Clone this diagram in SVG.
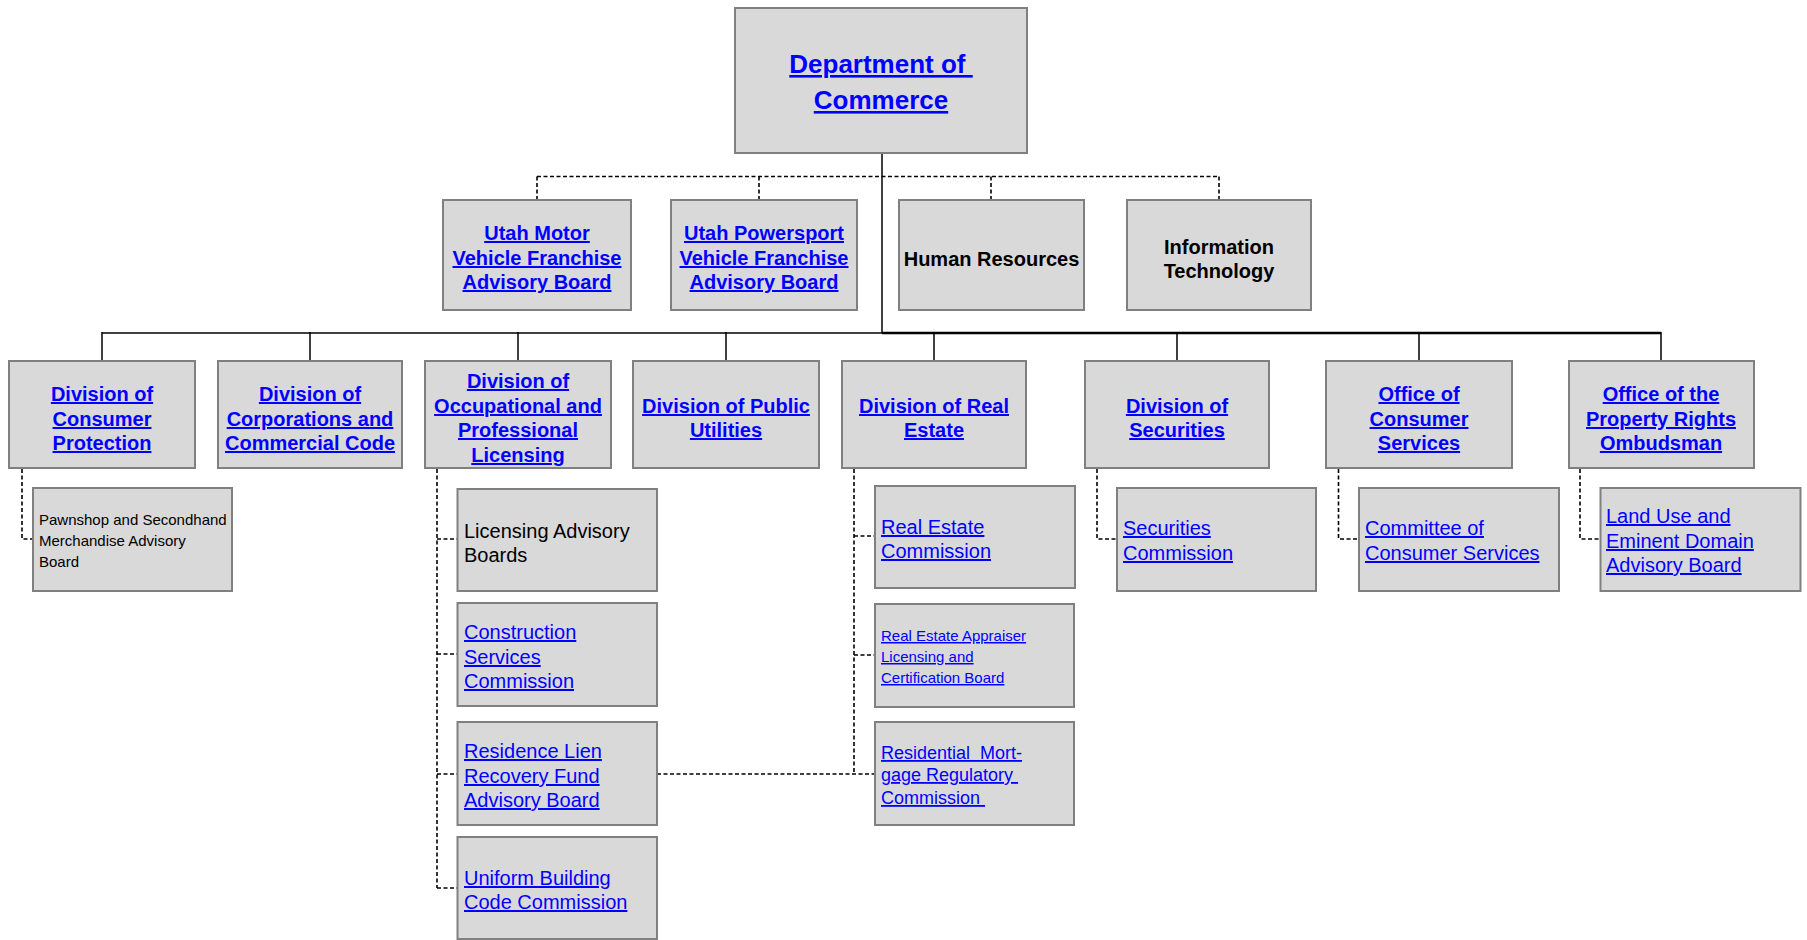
<svg xmlns="http://www.w3.org/2000/svg" width="1807" height="940" viewBox="0 0 1807 940">
<style>
.box{fill:#D9D9D9;stroke:#808080;stroke-width:2}
text{font-family:"Liberation Sans",Arial,sans-serif}
.lb{font-weight:bold;font-size:20px;fill:#0000FF;text-decoration:underline;text-anchor:middle}
.top{font-weight:bold;font-size:26px;fill:#0000FF;text-decoration:underline;text-anchor:middle;white-space:pre}
.hb{font-weight:bold;font-size:20px;fill:#000000;text-anchor:middle}
.lr{font-size:20px;fill:#0000FF;text-decoration:underline;white-space:pre}
.lr18{font-size:18px;fill:#0000FF;text-decoration:underline;white-space:pre}
.lr15{font-size:15px;fill:#0000FF;text-decoration:underline;white-space:pre}
.kr{font-size:20px;fill:#000000}
.kr15{font-size:15px;fill:#000000}
.solid{fill:none;stroke:#000;stroke-width:1.5}
.thick{fill:none;stroke:#000;stroke-width:2.6}
.dash{fill:none;stroke:#000;stroke-width:1.6;stroke-dasharray:4 2.5}
</style>
<rect width="1807" height="940" fill="#FFFFFF"/>
<g id="connectors">
  <path class="solid" d="M882 153 V333"/>
  <path class="solid" d="M102 333 H882"/>
  <path class="thick" d="M882 333 H1661"/>
  <path class="solid" d="M102 332 V361 M310 332 V361 M518 332 V361 M726 332 V361 M934 332 V361 M1177 332 V361 M1419 332 V361 M1661 332 V361"/>
  <path class="dash" d="M537 176.5 H1219 M537 176.5 V200 M759 176.5 V200 M991 176.5 V200 M1219 176.5 V200"/>
  <path class="dash" d="M22 469 V539 H33"/>
  <path class="dash" d="M437 469 V888 M437 539 H457 M437 654 H457 M437 774 H457 M437 888 H457"/>
  <path class="dash" d="M854 469 V774 M854 536 H875 M854 655 H875 M657 774 H875"/>
  <path class="dash" d="M1097 469 V539 H1117"/>
  <path class="dash" d="M1338.5 469 V539 H1359"/>
  <path class="dash" d="M1580 469 V539 H1600"/>
</g>
<g id="dept-commerce">
  <rect class="box" x="735" y="8" width="292" height="145"/>
  <text class="top" x="881" y="73">Department of </text>
  <text class="top" x="881" y="109">Commerce</text>
</g>
<g id="utah-motor">
  <rect class="box" x="443" y="200" width="188" height="110"/>
  <text class="lb" x="537" y="240">Utah Motor</text>
  <text class="lb" x="537" y="265">Vehicle Franchise</text>
  <text class="lb" x="537" y="289">Advisory Board</text>
</g>
<g id="utah-powersport">
  <rect class="box" x="671" y="200" width="186" height="110"/>
  <text class="lb" x="764" y="240">Utah Powersport</text>
  <text class="lb" x="764" y="265">Vehicle Franchise</text>
  <text class="lb" x="764" y="289">Advisory Board</text>
</g>
<g id="human-resources">
  <rect class="box" x="899" y="200" width="185" height="110"/>
  <text class="hb" x="991.5" y="266">Human Resources</text>
</g>
<g id="information-technology">
  <rect class="box" x="1127" y="200" width="184" height="110"/>
  <text class="hb" x="1219" y="254">Information</text>
  <text class="hb" x="1219" y="278">Technology</text>
</g>
<g id="consumer-protection">
  <rect class="box" x="9" y="361" width="186" height="107"/>
  <text class="lb" x="102" y="401">Division of</text>
  <text class="lb" x="102" y="426">Consumer</text>
  <text class="lb" x="102" y="450">Protection</text>
</g>
<g id="corporations">
  <rect class="box" x="218" y="361" width="184" height="107"/>
  <text class="lb" x="310" y="401">Division of</text>
  <text class="lb" x="310" y="426">Corporations and</text>
  <text class="lb" x="310" y="450">Commercial Code</text>
</g>
<g id="occupational">
  <rect class="box" x="425" y="361" width="186" height="107"/>
  <text class="lb" x="518" y="388">Division of</text>
  <text class="lb" x="518" y="413">Occupational and</text>
  <text class="lb" x="518" y="437">Professional</text>
  <text class="lb" x="518" y="462">Licensing</text>
</g>
<g id="public-utilities">
  <rect class="box" x="633" y="361" width="186" height="107"/>
  <text class="lb" x="726" y="413">Division of Public</text>
  <text class="lb" x="726" y="437">Utilities</text>
</g>
<g id="real-estate">
  <rect class="box" x="842" y="361" width="184" height="107"/>
  <text class="lb" x="934" y="413">Division of Real</text>
  <text class="lb" x="934" y="437">Estate</text>
</g>
<g id="securities">
  <rect class="box" x="1085" y="361" width="184" height="107"/>
  <text class="lb" x="1177" y="413">Division of</text>
  <text class="lb" x="1177" y="437">Securities</text>
</g>
<g id="office-consumer-services">
  <rect class="box" x="1326" y="361" width="186" height="107"/>
  <text class="lb" x="1419" y="401">Office of</text>
  <text class="lb" x="1419" y="426">Consumer</text>
  <text class="lb" x="1419" y="450">Services</text>
</g>
<g id="property-rights">
  <rect class="box" x="1569" y="361" width="185" height="107"/>
  <text class="lb" x="1661" y="401">Office of the</text>
  <text class="lb" x="1661" y="426">Property Rights</text>
  <text class="lb" x="1661" y="450">Ombudsman</text>
</g>
<g id="pawnshop">
  <rect class="box" x="33" y="488" width="199" height="103"/>
  <text class="kr15" x="39" y="525">Pawnshop and Secondhand</text>
  <text class="kr15" x="39" y="546">Merchandise Advisory</text>
  <text class="kr15" x="39" y="567">Board</text>
</g>
<g id="licensing-advisory">
  <rect class="box" x="457.5" y="489" width="199.5" height="102"/>
  <text class="kr" x="464" y="538">Licensing Advisory</text>
  <text class="kr" x="464" y="562">Boards</text>
</g>
<g id="construction">
  <rect class="box" x="457.5" y="603" width="199.5" height="103"/>
  <text class="lr" x="464" y="639">Construction</text>
  <text class="lr" x="464" y="664">Services</text>
  <text class="lr" x="464" y="688">Commission</text>
</g>
<g id="residence-lien">
  <rect class="box" x="457.5" y="722" width="199.5" height="103"/>
  <text class="lr" x="464" y="758">Residence Lien</text>
  <text class="lr" x="464" y="783">Recovery Fund</text>
  <text class="lr" x="464" y="807">Advisory Board</text>
</g>
<g id="uniform-building">
  <rect class="box" x="457.5" y="837" width="199.5" height="102"/>
  <text class="lr" x="464" y="885">Uniform Building</text>
  <text class="lr" x="464" y="909">Code Commission</text>
</g>
<g id="real-estate-commission">
  <rect class="box" x="875" y="486" width="200" height="102"/>
  <text class="lr" x="881" y="534">Real Estate</text>
  <text class="lr" x="881" y="558">Commission</text>
</g>
<g id="appraiser">
  <rect class="box" x="875" y="604" width="199" height="103"/>
  <text class="lr15" x="881" y="641">Real Estate Appraiser</text>
  <text class="lr15" x="881" y="662">Licensing and</text>
  <text class="lr15" x="881" y="683">Certification Board</text>
</g>
<g id="residential-mortgage">
  <rect class="box" x="875" y="722" width="199" height="103"/>
  <text class="lr18" x="881" y="759">Residential  Mort-</text>
  <text class="lr18" x="881" y="781">gage Regulatory </text>
  <text class="lr18" x="881" y="804">Commission </text>
</g>
<g id="securities-commission">
  <rect class="box" x="1117" y="488" width="199" height="103"/>
  <text class="lr" x="1123" y="535">Securities</text>
  <text class="lr" x="1123" y="560">Commission</text>
</g>
<g id="committee-consumer-services">
  <rect class="box" x="1359" y="488" width="200" height="103"/>
  <text class="lr" x="1365" y="535">Committee of</text>
  <text class="lr" x="1365" y="560">Consumer Services</text>
</g>
<g id="land-use">
  <rect class="box" x="1600.5" y="488" width="200" height="103"/>
  <text class="lr" x="1606" y="523">Land Use and</text>
  <text class="lr" x="1606" y="548">Eminent Domain</text>
  <text class="lr" x="1606" y="572">Advisory Board</text>
</g>
</svg>
